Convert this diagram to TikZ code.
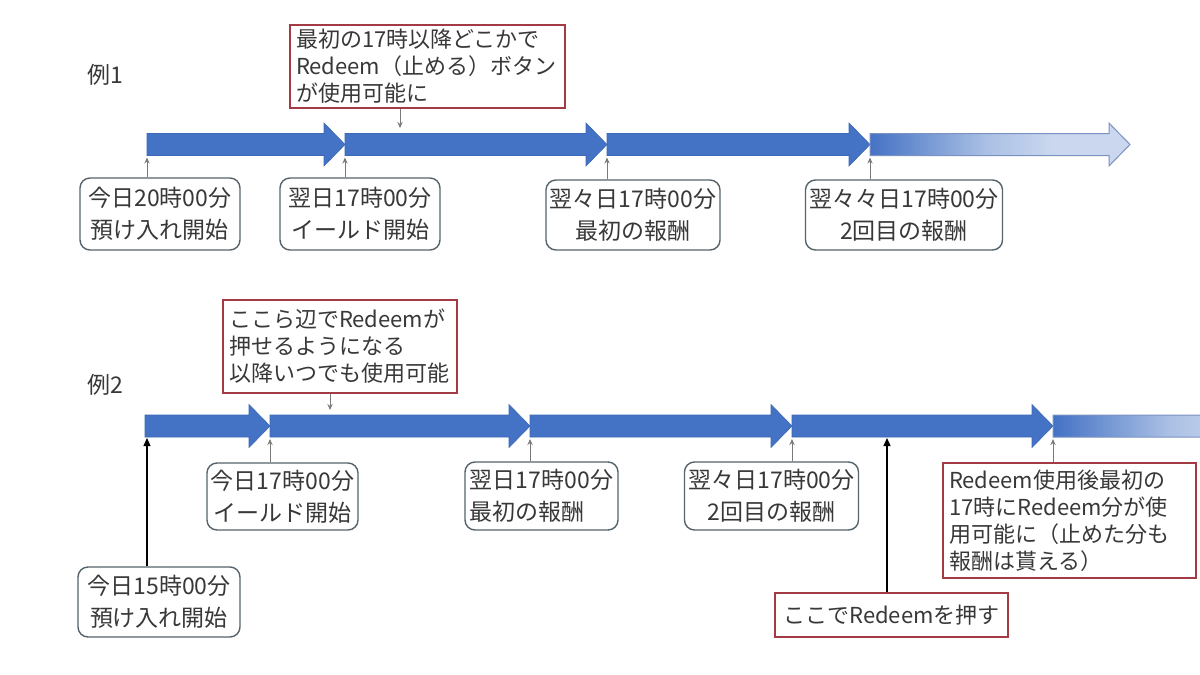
\documentclass[tikz,border=0pt]{standalone}
\usepackage{fontspec}
\setmainfont{Noto Sans CJK JP}
\usetikzlibrary{arrows.meta}
\definecolor{barblue}{HTML}{4472C4}
\definecolor{barline}{HTML}{3D68B6}
\definecolor{fadeend}{HTML}{CAD7EE}
\definecolor{fademid}{HTML}{A9BFE4}
\definecolor{fadeoutline}{HTML}{7A92C2}
\definecolor{redline}{HTML}{A33B45}
\definecolor{grayline}{HTML}{56636B}
\definecolor{txt}{HTML}{383838}
\definecolor{tickgray}{HTML}{7A7A7A}
\pgfdeclarehorizontalshading{fadeblue}{100bp}{color(0bp)=(barblue); color(25bp)=(barblue); color(47bp)=(fademid); color(60bp)=(fadeend); color(100bp)=(fadeend)}
\newcommand\blockarrow[4]{%
  \path[#1] (#2,#4-11) -- (#3-21,#4-11) -- (#3-21,#4-21.5) -- (#3,#4) -- (#3-21,#4+21.5) -- (#3-21,#4+11) -- (#2,#4+11) -- cycle;}
\begin{document}
\begin{tikzpicture}[x=0.5pt,y=-0.5pt,
  font=\fontsize{11.5}{13.5}\selectfont, text=txt,
  redbox/.style={draw=redline, line width=0.7pt, fill=white, inner xsep=3pt, inner ysep=2pt, align=left, font=\fontsize{11}{13.5}\selectfont},
  roundbox/.style={draw=grayline, line width=0.7pt, rounded corners=5pt, fill=white, align=center, inner xsep=2pt, font=\fontsize{11.5}{16}\selectfont},
  tickarrow/.style={draw=tickgray, line width=0.5pt, -{Stealth[length=3pt,width=2.6pt]}},
  longarrow/.style={draw=black, line width=0.6pt, -{Triangle[length=4pt,width=3.5pt]}},
  solidbar/.style={fill=barblue, draw=barline, line width=0.3pt},
  fadebar/.style={shade, shading=fadeblue, draw=fadeoutline, line width=0.5pt}]
\fill[white] (0,0) rectangle (1200,675);
\useasboundingbox (0,0) rectangle (1200,675);
\begin{scope}
\clip (0,0) rectangle (1200,675);
% ---------- row 1 ----------
\blockarrow{solidbar}{147}{345}{144.5}
\blockarrow{solidbar}{345}{607}{144.5}
\blockarrow{solidbar}{607}{870}{144.5}
\blockarrow{fadebar}{870}{1130}{144.5}
% ---------- row 2 ----------
\blockarrow{solidbar}{145}{270}{426}
\blockarrow{solidbar}{270}{530}{426}
\blockarrow{solidbar}{530}{792}{426}
\blockarrow{solidbar}{792}{1053}{426}
\blockarrow{fadebar}{1053}{1313}{426}
\end{scope}

\node (ex1) at (105,75) {例1};
\node (ex2) at (105,385) {例2};

% row 1 marks
\coordinate (p1) at (147,157.5);
\coordinate (p2) at (345,157.5);
\coordinate (p3) at (607,157.5);
\coordinate (p4) at (870,157.5);
\coordinate (q1) at (400,128);

\node[redbox, text width=131.5pt, minimum height=41.5pt] (n1) at (427.5,66.5)
  {最初の17時以降どこかで\\Redeem（止める）ボタン\\が使用可能に};
\node[roundbox, minimum width=80pt, minimum height=36pt] (b1) at (160,214) {今日20時00分\\預け入れ開始};
\node[roundbox, minimum width=80pt, minimum height=36pt] (b2) at (360,214) {翌日17時00分\\イールド開始};
\node[roundbox, minimum width=85pt, minimum height=35pt] (b3) at (633,215) {翌々日17時00分\\最初の報酬};
\node[roundbox, minimum width=96pt, minimum height=35pt] (b4) at (904,215) {翌々々日17時00分\\2回目の報酬};

\draw[tickarrow] (n1.south -| q1) -- (q1);
\draw[tickarrow] (b1.north -| p1) -- (p1);
\draw[tickarrow] (b2.north -| p2) -- (p2);
\draw[tickarrow] (b3.north -| p3) -- (p3);
\draw[tickarrow] (b4.north -| p4) -- (p4);

% row 2 marks
\coordinate (r1) at (147,438);
\coordinate (r2) at (270,439);
\coordinate (r3) at (530,439);
\coordinate (r4) at (792,439);
\coordinate (r5) at (887,438);
\coordinate (r6) at (1053,439);
\coordinate (q2) at (330,410);

\node[redbox, text width=111pt, minimum height=46.5pt] (n2) at (340,346.5)
  {ここら辺でRedeemが\\押せるようになる\\以降いつでも使用可能};
\node[roundbox, minimum width=75.5pt, minimum height=33.5pt] (c1) at (282.5,496.5) {今日17時00分\\イールド開始};
\node[roundbox, minimum width=76.5pt, minimum height=34pt, align=left] (c2) at (541.5,496) {翌日17時00分\\最初の報酬};
\node[roundbox, minimum width=86.5pt, minimum height=34pt] (c3) at (771.5,496) {翌々日17時00分\\2回目の報酬};
\node[roundbox, minimum width=81pt, minimum height=35pt] (c0) at (159,602) {今日15時00分\\預け入れ開始};
\node[redbox, text width=120.5pt, minimum height=57.5pt] (n3) at (1069.5,520.5)
  {Redeem使用後最初の\\17時にRedeem分が使\\用可能に（止めた分も\\報酬は貰える）};
\node[redbox, align=center, minimum width=116.5pt, minimum height=22pt] (n4) at (891.5,615) {ここでRedeemを押す};

\draw[tickarrow] (n2.south -| q2) -- (q2);
\draw[tickarrow] (c1.north -| r2) -- (r2);
\draw[tickarrow] (c2.north -| r3) -- (r3);
\draw[tickarrow] (c3.north -| r4) -- (r4);
\draw[tickarrow] (n3.north -| r6) -- (r6);
\draw[longarrow] (c0.north -| r1) -- (r1);
\draw[longarrow] (n4.north -| r5) -- (r5);
\end{tikzpicture}
\end{document}
